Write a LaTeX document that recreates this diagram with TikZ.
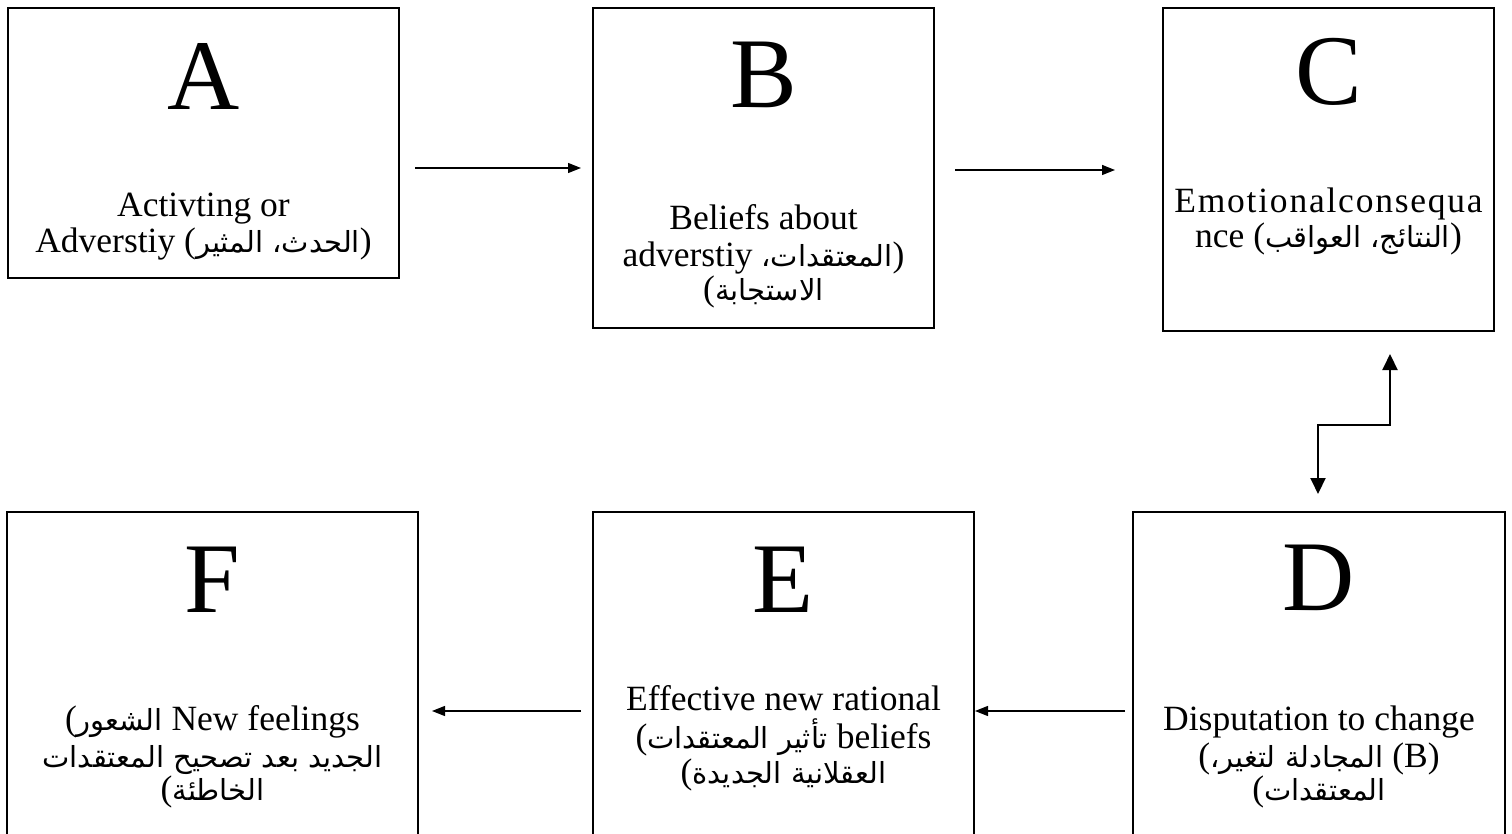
\documentclass[tikz,border=0pt]{standalone}
\usepackage{fontspec}
\setmainfont{Liberation Serif}
\newfontfamily\arabicfont[Script=Arabic]{DejaVu Sans}
\TeXXeTstate=1
\usetikzlibrary{arrows.meta}
\newcommand\artxt[1]{{\arabicfont\fontsize{29}{37}\selectfont\beginR #1\endR}}
\tikzset{
  box/.style={draw, line width=1.3pt, inner sep=0pt, rectangle},
  bigletter/.style={anchor=base, inner sep=0pt, font=\fontsize{100}{110}\selectfont},
  txtline/.style={anchor=base, inner sep=0pt, font=\fontsize{35.5}{37}\selectfont},
  conn/.style={line width=1.4pt, -{Triangle[length=13pt,width=10pt]}},
  stepconn/.style={line width=2pt, {Triangle[length=16pt,width=15pt]}-{Triangle[length=16pt,width=15pt]}}
}
\begin{document}
\begin{tikzpicture}[x=1pt,y=-1pt]
\useasboundingbox (0,0) rectangle (1512,834);
\clip (0,0) rectangle (1512,834);
\fill[white] (0,0) rectangle (1512,834);
% boxes
\node[box, minimum width=391pt, minimum height=270pt] (A) at (203.5,143) {};
\node[box, minimum width=341pt, minimum height=320pt] (B) at (763.5,168) {};
\node[box, minimum width=331pt, minimum height=323pt] (C) at (1328.5,169.5) {};
\node[box, minimum width=411pt, minimum height=340pt] (F) at (212.5,682) {};
\node[box, minimum width=381pt, minimum height=340pt] (E) at (783.5,682) {};
\node[box, minimum width=372pt, minimum height=340pt] (D) at (1319,682) {};
% letters
\node[bigletter] (Al) at (203.5,110) {A};
\node[bigletter] (Bl) at (763.5,108) {B};
\node[bigletter] (Cl) at (1328.5,105) {C};
\node[bigletter] (Dl) at (1319,610) {D};
\node[bigletter] (El) at (783.5,612) {E};
\node[bigletter] (Fl) at (212.5,612) {F};
% texts
\node[txtline] (A1) at (203.5,217) {Activting or};
\node[txtline] (A2) at (203.5,253) {Adverstiy (\artxt{الحدث، المثير})};
\node[txtline] (B1) at (763.5,230) {Beliefs about};
\node[txtline] (B2) at (763.5,267) {adverstiy \artxt{المعتقدات،})};
\node[txtline] (B3) at (763.5,300) {(\artxt{الاستجابة}};
\node[txtline] (C1) at (1328.5,213) {\addfontfeature{LetterSpace=5}Emotionalconsequa};
\node[txtline] (C2) at (1328.5,248) {nce (\artxt{النتائج، العواقب})};
\node[txtline] (D1) at (1319,730) {Disputation to change};
\node[txtline] (D2) at (1319,767) {(\artxt{المجادلة لتغير،} (B)};
\node[txtline] (D3) at (1319,800) {(\artxt{المعتقدات}};
\node[txtline] (E1) at (783.5,710) {Effective new rational};
\node[txtline] (E2) at (783.5,748) {(\artxt{تأثير المعتقدات} beliefs};
\node[txtline] (E3) at (783.5,783) {(\artxt{العقلانية الجديدة}};
\node[txtline] (F1) at (212.5,730) {(\artxt{الشعور} New feelings};
\node[txtline] (F2) at (212.5,767) {\artxt{الجديد بعد تصحيح المعتقدات}};
\node[txtline] (F3) at (212.5,800) {(\artxt{الخاطئة}};
% connector end points
\coordinate (ab1) at (415,168);
\coordinate (ab2) at (581,168);
\coordinate (bc1) at (955,170);
\coordinate (bc2) at (1115,170);
\coordinate (de1) at (1125,711);
\coordinate (de2) at (975,711);
\coordinate (ef1) at (581,711);
\coordinate (ef2) at (432,711);
\coordinate (sd) at (1318,494);
\coordinate (sm1) at (1318,425);
\coordinate (sm2) at (1390,425);
\coordinate (sc) at (1390,354);
% connectors
\draw[conn] (ab1) -- (ab2);
\draw[conn] (bc1) -- (bc2);
\draw[conn] (de1) -- (de2);
\draw[conn] (ef1) -- (ef2);
\draw[stepconn] (sd) -- (sm1) -- (sm2) -- (sc);
\end{tikzpicture}
\end{document}
